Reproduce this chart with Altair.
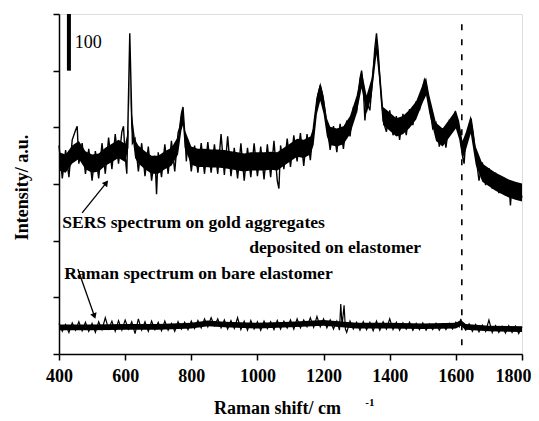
import altair as alt
import pandas as pd

# ---------------- data ----------------
# SERS spectrum: noisy trace (with its spikes)
sers_x = [400, 410, 420, 430, 440, 450, 455, 460, 470, 480, 490, 500, 510, 520, 530, 540,
          550, 560, 570, 580, 590, 595, 600, 605, 610, 614, 618, 622, 630, 640, 650, 660,
          670, 680, 690, 695, 700, 710, 720, 730, 740, 750, 760, 765, 770, 775, 780, 785,
          790, 800, 810, 820, 830, 840, 850, 860, 870, 880, 890, 900, 910, 920, 930, 940,
          950, 960, 970, 980, 990, 1000, 1010, 1020, 1030, 1040, 1050, 1060, 1065, 1070,
          1080, 1090, 1100, 1110, 1120, 1130, 1140, 1150, 1160, 1170, 1180, 1190, 1195,
          1200, 1210, 1220, 1230, 1240, 1250, 1260, 1270, 1280, 1290, 1300, 1310, 1315,
          1320, 1325, 1330, 1340, 1350, 1355, 1360, 1365, 1370, 1375, 1380, 1390, 1400,
          1410, 1420, 1430, 1440, 1450, 1460, 1470, 1480, 1490, 1500, 1505, 1510, 1520,
          1530, 1540, 1550, 1560, 1570, 1580, 1590, 1597, 1605, 1612, 1620, 1625, 1630,
          1640, 1646, 1652, 1660, 1670, 1680, 1690, 1700, 1710, 1720, 1730, 1740, 1750,
          1760, 1765, 1770, 1780, 1790, 1800]
sers_y = [368, 310, 360, 312, 378, 395, 402, 336, 372, 318, 362, 306, 358, 310, 372, 318,
          382, 326, 388, 336, 392, 402, 350, 318, 452, 566, 470, 372, 380, 322, 372, 314,
          366, 306, 350, 282, 356, 312, 370, 318, 376, 322, 390, 400, 424, 436, 392, 340,
          378, 322, 368, 320, 372, 318, 374, 320, 370, 318, 388, 316, 384, 314, 364, 310,
          372, 306, 364, 312, 372, 314, 366, 308, 370, 312, 376, 306, 292, 368,
          326, 380, 330, 386, 340, 390, 332, 388, 342, 404, 450, 474, 462,
          446, 404, 360, 402, 356, 406, 362, 412, 384, 434, 428, 486, 500,
          470, 412, 446, 430, 500, 540, 566, 536, 486, 446, 412, 392, 430,
          386, 420, 378, 424, 386, 432, 404, 446, 430, 472, 484, 476, 440,
          398, 408, 366, 398, 364, 410, 396, 428, 408, 392, 350, 336, 380,
          398, 416, 392, 352, 306, 338, 298, 328, 292, 320, 284, 312, 280,
          304, 262, 300, 276, 300, 276]

# SERS spectrum: lower / upper edge of the dense noise band
band_x = [400, 420, 440, 460, 480, 500, 520, 540, 560, 580, 600, 610, 614, 618, 630, 640,
          660, 680, 700, 720, 740, 760, 770, 775, 780, 800, 820, 840, 860, 880, 900, 920,
          940, 960, 980, 1000, 1020, 1040, 1060, 1080, 1100, 1120, 1140, 1160, 1170, 1180,
          1190, 1200, 1210, 1220, 1240, 1260, 1280, 1300, 1315, 1330, 1345, 1360, 1370,
          1380, 1400, 1420, 1440, 1460, 1480, 1500, 1510, 1520, 1540, 1560, 1580, 1600,
          1610, 1620, 1630, 1645, 1660, 1680, 1700, 1720, 1740, 1760, 1780, 1800]
band_hi = [356, 352, 368, 376, 358, 352, 354, 364, 371, 378, 371, 396, 536, 436, 378, 368,
           358, 350, 350, 358, 364, 384, 426, 436, 396, 366, 362, 362, 361, 361, 360, 358,
           356, 354, 356, 356, 356, 357, 356, 364, 372, 380, 378, 384, 401, 456,
           479, 456, 416, 401, 398, 402, 420, 456, 501, 456, 486, 561, 506,
           436, 426, 416, 420, 431, 446, 476, 488, 456, 408, 398, 414, 430,
           411, 376, 391, 421, 366, 336, 328, 320, 314, 308, 304, 301]
band_lo = [324, 320, 336, 344, 326, 320, 322, 332, 339, 346, 339, 364, 504, 404, 346, 336,
           326, 318, 318, 326, 332, 352, 394, 404, 364, 334, 330, 330, 329, 329, 328, 326,
           324, 322, 324, 324, 324, 325, 324, 332, 340, 348, 346, 352, 369, 424,
           447, 424, 384, 369, 366, 370, 388, 424, 469, 424, 454, 529, 474,
           404, 394, 384, 388, 399, 414, 444, 456, 424, 376, 366, 382, 398,
           379, 344, 359, 389, 334, 304, 296, 288, 282, 276, 272, 269]

# Raman spectrum on bare elastomer: noisy trace
raman_x = [400, 410, 420, 430, 440, 450, 460, 470, 480, 490, 500, 510, 520, 530, 540, 550,
           560, 570, 580, 590, 600, 610, 620, 630, 640, 650, 660, 670, 680, 690, 700, 710,
           720, 730, 740, 750, 760, 770, 780, 790, 800, 810, 820, 830, 840, 850, 860, 870,
           880, 890, 900, 910, 920, 930, 940, 950, 960, 970, 980, 990, 1000, 1010, 1020,
           1030, 1040, 1050, 1060, 1070, 1080, 1090, 1100, 1110, 1120, 1130, 1140, 1150,
           1160, 1170, 1180, 1190, 1200, 1210, 1220, 1230, 1240, 1248, 1252, 1256, 1262,
           1266, 1270, 1280, 1290, 1300, 1310, 1320, 1330, 1340, 1350, 1360, 1370, 1380,
           1390, 1400, 1410, 1420, 1430, 1440, 1450, 1460, 1470, 1480, 1490, 1500, 1510,
           1520, 1530, 1540, 1550, 1560, 1570, 1580, 1590, 1600, 1610, 1615, 1620, 1630,
           1640, 1650, 1660, 1670, 1680, 1690, 1700, 1710, 1720, 1730, 1740, 1750, 1760,
           1770, 1780, 1790, 1800]
raman_y = [54, 40, 52, 38, 55, 42, 57, 41, 56, 40, 54, 38, 57, 43, 64, 44,
           58, 40, 59, 42, 60, 44, 57, 36, 62, 42, 57, 40, 58, 43, 56, 41,
           58, 42, 54, 40, 57, 44, 56, 43, 58, 45, 59, 46, 62, 48, 64, 50,
           62, 46, 60, 44, 59, 45, 64, 43, 58, 42, 59, 44, 57, 42, 58,
           45, 57, 43, 59, 44, 58, 46, 60, 44, 62, 46, 60, 48,
           64, 47, 66, 48, 62, 46, 60, 44, 58, 42, 88, 50, 86,
           44, 38, 58, 44, 56, 42, 57, 43, 56, 41, 58, 42, 57,
           44, 62, 43, 56, 42, 55, 44, 56, 42, 54, 43, 55, 42,
           53, 43, 54, 42, 53, 43, 54, 44, 56, 48, 62, 50, 42,
           53, 40, 52, 39, 51, 40, 60, 38, 50, 38, 49, 37, 50,
           38, 49, 36, 48]

# Raman spectrum: lower / upper edge of its noise band
rband_x = [400, 500, 600, 700, 800, 850, 900, 1000, 1100, 1200, 1300, 1400, 1500, 1600,
           1615, 1630, 1700, 1800]
rband_hi = [52, 52, 53, 53, 55, 59, 57, 55, 57, 60, 55, 55, 54, 55, 60, 53, 50, 49]
rband_lo = [42, 42, 43, 43, 45, 49, 47, 45, 47, 50, 45, 45, 44, 45, 50, 43, 40, 39]

x_ticks = [400, 500, 600, 700, 800, 900, 1000, 1100, 1200, 1300, 1400, 1500, 1600, 1700, 1800]
y_ticks = [0, 50, 100, 150, 200, 250, 300, 350, 400, 450, 500, 550, 600]

dashed_x = 1618
scale_bar = {"x": 430, "y": 500, "y2": 600, "label": "100", "lx": 448, "ly": 549}

notes_text = ["SERS spectrum on gold aggregates", "deposited on elastomer",
              "Raman spectrum on bare elastomer"]
notes_x = [410, 975, 416]
notes_y = [231, 187, 141]

arrows = [  # tail (x, y) -> tip (x2, y2) in data units, angle of the head
    {"x": 470, "y": 249, "x2": 543, "y2": 302, "angle": 38},
    {"x": 457, "y": 150, "x2": 507, "y2": 67, "angle": 160},
]

FONT = "Liberation Serif"

sers = pd.DataFrame({"x": sers_x, "y": sers_y})
raman = pd.DataFrame({"x": raman_x, "y": raman_y})
band = pd.DataFrame({"x": band_x, "lo": band_lo, "hi": band_hi})
rband = pd.DataFrame({"x": rband_x, "lo": rband_lo, "hi": rband_hi})

xs = alt.Scale(domain=[400, 1800], nice=False, zero=False)
ys = alt.Scale(domain=[0, 600], nice=False)

x_axis = alt.Axis(values=x_ticks, labelExpr="datum.value % 200 === 0 ? datum.label : ''",
                  format="d", grid=False, domainColor="black", domainWidth=1.5,
                  tickColor="black", tickWidth=1.5, tickSize=6, labelPadding=7,
                  labelFont=FONT, labelFontSize=18, labelFontWeight="bold",
                  labelColor="black", labelFlush=False,
                  labelAlign={"condition": {"test": "datum.value === 1800", "value": "right"},
                              "value": "center"},
                  labelOffset={"condition": {"test": "datum.value === 1800", "value": 9},
                               "value": 0},
                  title="Raman shift/ cm", titleFont=FONT, titleFontSize=18,
                  titleFontWeight="bold", titleColor="black", titleX=218, titleY=45)
y_axis = alt.Axis(values=y_ticks, labels=False, grid=False, domainColor="black",
                  domainWidth=1.5, tickColor="black", tickWidth=1.5, tickSize=6,
                  title="Intensity/ a.u.", titleFont=FONT, titleFontSize=18,
                  titleFontWeight="bold", titleColor="black", titleX=-28, titleY=173)

band_area = alt.Chart(band).mark_area(color="black", opacity=1).encode(
    x=alt.X("x:Q", scale=xs, axis=x_axis),
    y=alt.Y("lo:Q", scale=ys, axis=y_axis), y2="hi:Q")
line_sers = alt.Chart(sers).mark_line(color="black", strokeWidth=1.4).encode(
    x=alt.X("x:Q", scale=xs), y=alt.Y("y:Q", scale=ys))
rband_area = alt.Chart(rband).mark_area(color="black", opacity=1).encode(
    x=alt.X("x:Q", scale=xs), y=alt.Y("lo:Q", scale=ys), y2="hi:Q")
line_raman = alt.Chart(raman).mark_line(color="black", strokeWidth=1.2).encode(
    x=alt.X("x:Q", scale=xs), y=alt.Y("y:Q", scale=ys))

dash = alt.Chart(pd.DataFrame({"x": [dashed_x], "y": [582], "y2": [0]})).mark_rule(
    color="black", strokeWidth=1.6, strokeDash=[6, 9]).encode(
    x=alt.X("x:Q", scale=xs), y=alt.Y("y:Q", scale=ys), y2="y2:Q")

bar = alt.Chart(pd.DataFrame([scale_bar])).mark_rule(color="black", strokeWidth=4).encode(
    x=alt.X("x:Q", scale=xs), y=alt.Y("y:Q", scale=ys), y2="y2:Q")
bar_label = alt.Chart(pd.DataFrame([scale_bar])).mark_text(
    font=FONT, fontSize=18, align="left", baseline="middle", color="black").encode(
    x=alt.X("lx:Q", scale=xs), y=alt.Y("ly:Q", scale=ys), text="label:N")

notes = alt.Chart(pd.DataFrame({"t": notes_text, "x": notes_x, "y": notes_y})).mark_text(
    font=FONT, fontSize=17.6, fontWeight="bold", align="left", baseline="middle",
    color="black").encode(x=alt.X("x:Q", scale=xs), y=alt.Y("y:Q", scale=ys), text="t:N")

sup = alt.Chart(pd.DataFrame({"t": ["-1"], "x": [1326], "y": [-86]})).mark_text(
    font=FONT, fontSize=11, fontWeight="bold", align="left", baseline="middle",
    color="black").encode(x=alt.X("x:Q", scale=xs), y=alt.Y("y:Q", scale=ys), text="t:N")

arrow_layers = []
for a in arrows:
    df = pd.DataFrame([a])
    arrow_layers.append(alt.Chart(df).mark_rule(color="black", strokeWidth=1.3).encode(
        x=alt.X("x:Q", scale=xs), y=alt.Y("y:Q", scale=ys), x2="x2:Q", y2="y2:Q"))
    arrow_layers.append(alt.Chart(df).mark_point(
        shape="triangle-up", filled=True, color="black", opacity=1, size=45,
        angle=a["angle"]).encode(x=alt.X("x2:Q", scale=xs), y=alt.Y("y2:Q", scale=ys)))

chart = alt.layer(band_area, line_sers, rband_area, line_raman, dash, bar, bar_label,
                  notes, sup, *arrow_layers).properties(
    width=463, height=340,
    autosize=alt.AutoSizeParams(type="none"),
    padding={"left": 51, "top": 6, "right": 9, "bottom": 64},
).configure_view(stroke=None).configure(background="white")

chart.save("out.html", embed_options={"renderer": "svg", "actions": False})
